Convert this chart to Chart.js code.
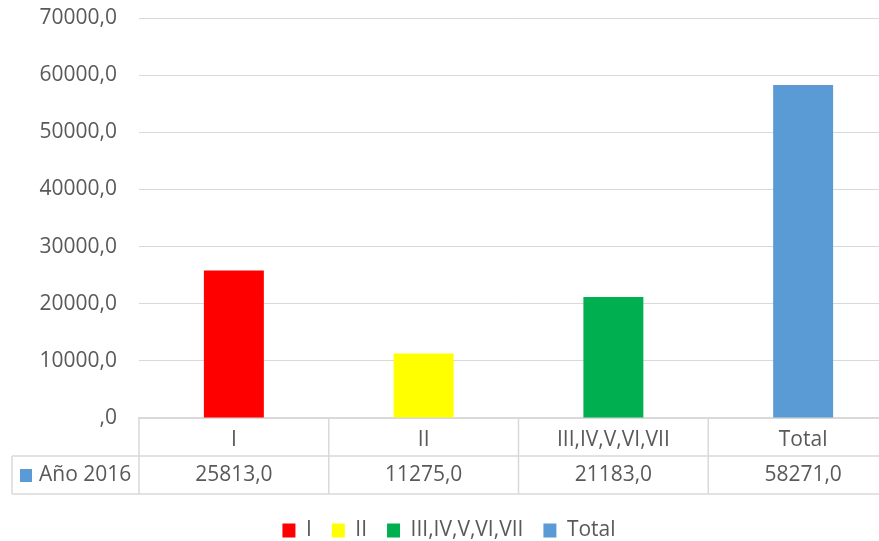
<!DOCTYPE html>
<html>
<head>
<meta charset="utf-8">
<script src="https://cdn.jsdelivr.net/npm/chart.js@4.4.1/dist/chart.umd.min.js"></script>
<style>
html, body { margin: 0; padding: 0; background: #fff; overflow: hidden; }
#wrap { width: 898px; height: 541px; }
</style>
</head>
<body>
<div id="wrap"><canvas id="barchart"></canvas></div>
<script>
// data
const categories = ["I", "II", "III,IV,V,VI,VII", "Total"];
const seriesName = "Año 2016";
const values = [25813, 11275, 21183, 58271];
const barColors = ["#FF0000", "#FFFF00", "#00B050", "#5B9BD5"];
const seriesColor = "#5B9BD5";
const yMax = 70000;
const yStep = 10000;

const textColor = '#595959';
const lineColor = '#d9d9d9';
const fontFamily = '"Open Sans", sans-serif';

// 25813 -> "25813,0", 0 -> ",0"
function fmt(v) {
    return v === 0 ? ',0' : v.toFixed(1).replace('.', ',');
}

// data table under the plot (row of values + borders)
const dataTable = {
    id: 'dataTable',
    afterDraw(chart) {
        const ctx = chart.ctx;
        const x = chart.scales.x;
        const area = chart.chartArea;
        const top = area.bottom, mid = top + 38, bot = mid + 38;
        const half = (x.getPixelForValue(1) - x.getPixelForValue(0)) / 2;
        const left = 12;
        ctx.save();
        ctx.strokeStyle = lineColor;
        ctx.lineWidth = 1.5;
        ctx.beginPath();
        ctx.moveTo(left, mid); ctx.lineTo(area.right, mid);
        ctx.moveTo(left, bot); ctx.lineTo(area.right, bot);
        ctx.moveTo(left, mid); ctx.lineTo(left, bot);
        categories.forEach((c, i) => {
            const px = x.getPixelForValue(i) - half;
            ctx.moveTo(px, top); ctx.lineTo(px, bot);
        });
        ctx.moveTo(area.right, top); ctx.lineTo(area.right, bot);
        ctx.stroke();

        const cy = (mid + bot) / 2;
        ctx.font = '21px ' + fontFamily;
        ctx.fillStyle = textColor;
        ctx.textAlign = 'center';
        ctx.textBaseline = 'middle';
        values.forEach((v, i) => ctx.fillText(fmt(v), x.getPixelForValue(i), cy));

        ctx.fillStyle = seriesColor;
        ctx.fillRect(20, cy - 6, 12, 13);
        ctx.fillStyle = textColor;
        ctx.textAlign = 'left';
        ctx.fillText(seriesName, 39, cy);
        ctx.restore();
    }
};

new Chart(document.getElementById('barchart').getContext('2d'), {
    type: 'bar',
    data: {
        labels: categories,
        datasets: [{
            label: seriesName,
            data: values,
            backgroundColor: barColors,
            categoryPercentage: 1,
            barPercentage: 0.316
        }]
    },
    options: {
        responsive: true,
        maintainAspectRatio: false,
        animation: false,
        layout: { padding: { top: 18, left: 0, right: 0, bottom: -10 } },
        scales: {
            y: {
                min: 0, max: yMax,
                afterFit: s => { s.width = 139; s.paddingTop = 0; },
                ticks: {
                    stepSize: yStep,
                    padding: 22,
                    color: textColor,
                    font: { size: 21, family: fontFamily },
                    callback: v => fmt(v)
                },
                grid: { color: lineColor, drawTicks: false },
                border: { display: false }
            },
            x: {
                afterFit: s => { s.height = 82; },
                ticks: {
                    padding: 1,
                    color: textColor,
                    font: { size: 21, family: fontFamily }
                },
                grid: { display: false },
                border: { display: true, color: lineColor, width: 1.5 }
            }
        },
        plugins: {
            tooltip: { enabled: false },
            legend: {
                position: 'bottom',
                labels: {
                    boxWidth: 13,
                    boxHeight: 14,
                    padding: 20,
                    color: textColor,
                    font: { size: 21, family: fontFamily },
                    generateLabels: () => categories.map((c, i) => ({
                        text: c,
                        fillStyle: barColors[i],
                        strokeStyle: barColors[i],
                        lineWidth: 0,
                        hidden: false,
                        index: i,
                        fontColor: textColor
                    }))
                }
            }
        }
    },
    plugins: [dataTable]
});
</script>
</body>
</html>
